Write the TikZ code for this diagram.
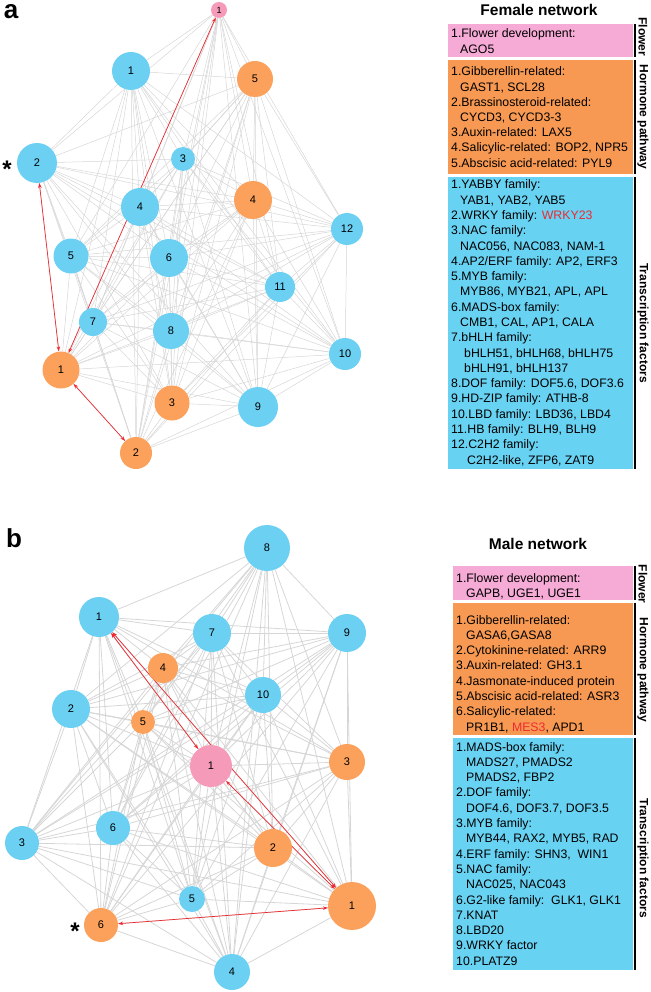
\documentclass[tikz,border=0pt]{standalone}
\usepackage{fontspec}
\setmainfont{Liberation Sans}
\usetikzlibrary{backgrounds,arrows.meta}
\definecolor{nodeblue}{RGB}{108,208,243}
\definecolor{nodeorange}{RGB}{251,161,91}
\definecolor{nodepink}{RGB}{245,155,185}
\definecolor{legpink}{RGB}{246,170,214}
\definecolor{legorange}{RGB}{247,153,82}
\definecolor{legblue}{RGB}{104,210,243}
\definecolor{edgegray}{RGB}{214,214,214}
\definecolor{linkred}{RGB}{238,42,48}

\tikzset{
  netnode/.style={circle,inner sep=0pt,font=\fontsize{11}{13}\selectfont},
  fedge/.style={draw=edgegray,line width=0.5pt},
  medge/.style={draw=edgegray,line width=0.8pt},
  redlink/.style={draw=linkred,line width=0.7pt,{Stealth[length=5pt,width=3.6pt]}-{Stealth[length=5pt,width=3.6pt]}},
  legline/.style={anchor=base west,inner sep=0pt,font=\fontsize{12.3}{14}\selectfont},
  legtitle/.style={font=\bfseries\fontsize{15.5}{18}\selectfont},
  sidelabel/.style={rotate=-90,inner sep=0pt,font=\bfseries\fontsize{12}{14}\selectfont},
  sidebar/.style={line width=2.5pt},
  panel/.style={inner sep=0pt,font=\bfseries\fontsize{26}{28}\selectfont},
  starmark/.style={inner sep=0pt,font=\bfseries\fontsize{24}{24}\selectfont}
}

\def\fnames{f-p1,f-b1,f-o5,f-b2,f-b3,f-b4,f-o4,f-b12,f-b5,f-b6,f-b11,f-b7,f-b8,f-b10,f-o1,f-o3,f-b9,f-o2}
\def\mnames{m-b8,m-b1,m-b7,m-b9,m-o4,m-b10,m-b2,m-o5,m-p1,m-o3,m-b6,m-b3,m-o2,m-b5,m-o1,m-o6,m-b4}

\begin{document}
\begin{tikzpicture}[x=1pt,y=-1pt]
\useasboundingbox (0,0) rectangle (650,992);

% a: female network
\node[panel] (lab-a) at (11,12) {a};
\node[netnode,fill=nodepink,minimum size=16,font=\fontsize{9}{10}\selectfont] (f-p1) at (219,10) {1};
\foreach \nm/\x/\y/\r/\c/\t in {
  f-b1/131/71/19/nodeblue/1, f-o5/255/79/18/nodeorange/5, f-b2/37/163/20/nodeblue/2,
  f-b3/183/159/12/nodeblue/3, f-b4/140/207/19/nodeblue/4, f-o4/253/200/19/nodeorange/4,
  f-b12/347/229/16/nodeblue/12, f-b5/71/256/17.5/nodeblue/5, f-b6/169/258/19/nodeblue/6,
  f-b11/280/287/15/nodeblue/11, f-b7/93/322/14/nodeblue/7, f-b8/171/331/18/nodeblue/8,
  f-b10/345/354/16/nodeblue/10, f-o1/61/370/18.5/nodeorange/1, f-o3/172/403/17.5/nodeorange/3,
  f-b9/258/407/20/nodeblue/9, f-o2/136/453/16/nodeorange/2}
  \node[netnode,fill=\c,minimum size=2*\r] (\nm) at (\x,\y) {\t};
\node[starmark] (ast-a) at (7,169) {*};

\begin{scope}[on background layer]
\foreach \a [count=\i] in \fnames
  \foreach \b [count=\j] in \fnames
    {\ifnum\j>\i \draw[fedge] (\a) -- (\b); \fi}
\draw[redlink] (f-o1) -- (f-p1);
\draw[redlink] (f-b2) -- (f-o1);
\draw[redlink] (f-o1) -- (f-o2);
\end{scope}

% female legend
\node[legtitle] (ftitle) at (539,10) {Female network};
\fill[legpink] (448,24) rectangle (633,57);
\fill[legorange] (448,60) rectangle (633,174);
\fill[legblue] (448,177) rectangle (633,469);
\draw[sidebar] (635,24) -- (635,57);
\draw[sidebar] (635,60) -- (635,174);
\draw[sidebar] (635,177) -- (635,469);
\node[sidelabel] (fside1) at (643,37) {Flower};
\node[sidelabel] (fside2) at (643,117) {Hormone pathway};
\node[sidelabel] (fside3) at (643,323) {Transcription factors};
\foreach \dx/\t [count=\i from 0] in {0/{1.Flower development:}, 9/{AGO5}}
  \node[legline] (fp-\i) at ({451+\dx},{38+15.2*\i}) {\t};
\foreach \dx/\t [count=\i from 0] in {0/{1.Gibberellin-related:}, 9/{GAST1, SCL28},
  0/{2.Brassinosteroid-related:}, 9/{CYCD3, CYCD3-3}, 0/{3.Auxin-related: LAX5},
  0/{4.Salicylic-related: BOP2, NPR5}, 0/{5.Abscisic acid-related: PYL9}}
  \node[legline] (fo-\i) at ({451+\dx},{76+15.2*\i}) {\t};
\foreach \dx/\t [count=\i from 0] in {0/{1.YABBY family:}, 9/{YAB1, YAB2, YAB5},
  0/{2.WRKY family: \textcolor{linkred}{WRKY23}}, 0/{3.NAC family:}, 9/{NAC056, NAC083, NAM-1},
  0/{4.AP2/ERF family: AP2, ERF3}, 0/{5.MYB family:}, 9/{MYB86, MYB21, APL, APL},
  0/{6.MADS-box family:}, 9/{CMB1, CAL, AP1, CALA}, 0/{7.bHLH family:},
  13/{bHLH51, bHLH68, bHLH75}, 13/{bHLH91, bHLH137}, 0/{8.DOF family: DOF5.6, DOF3.6},
  0/{9.HD-ZIP family: ATHB-8}, 0/{10.LBD family: LBD36, LBD4}, 0/{11.HB family: BLH9, BLH9},
  0/{12.C2H2 family:}, 16/{C2H2-like, ZFP6, ZAT9}}
  \node[legline] (fb-\i) at ({451+\dx},{189+15.28*\i}) {\t};

% b: male network
\node[panel] (lab-b) at (14,538) {b};
\foreach \nm/\x/\y/\r/\c/\t in {
  m-b8/267/548/23/nodeblue/8, m-b1/99/617/20/nodeblue/1, m-b7/212/633/19/nodeblue/7,
  m-b9/347/633/19/nodeblue/9, m-o4/163/668/15/nodeorange/4, m-b10/263/695/18/nodeblue/10,
  m-b2/71/709/19/nodeblue/2, m-o5/143/722/12/nodeorange/5, m-p1/211/766/21/nodepink/1,
  m-o3/347/762/18/nodeorange/3, m-b6/113/828/17/nodeblue/6, m-b3/22/843/17/nodeblue/3,
  m-o2/273/848/19/nodeorange/2, m-b5/192/899/13/nodeblue/5, m-o1/352/906/24/nodeorange/1,
  m-o6/101/925/17/nodeorange/6, m-b4/232/972/18/nodeblue/4}
  \node[netnode,fill=\c,minimum size=2*\r] (\nm) at (\x,\y) {\t};
\node[starmark] (ast-b) at (75,931) {*};

\begin{scope}[on background layer]
\foreach \a [count=\i] in \mnames
  \foreach \b [count=\j] in \mnames
    {\ifnum\j>\i \draw[medge] (\a) -- (\b); \fi}
\draw[redlink] (m-b1) -- (m-p1);
\draw[redlink] (m-b1) -- (m-o1);
\draw[redlink] (m-p1) -- (m-o1);
\draw[redlink] (m-o6) -- (m-o1);
\end{scope}

% male legend
\node[legtitle] (mtitle) at (538,544) {Male network};
\fill[legpink] (453,566) rectangle (633,600);
\fill[legorange] (453,603) rectangle (633,735);
\fill[legblue] (453,738) rectangle (633,970);
\draw[sidebar] (635,566) -- (635,600);
\draw[sidebar] (635,603) -- (635,735);
\draw[sidebar] (635,738) -- (635,970);
\node[sidelabel] (mside1) at (643,584) {Flower};
\node[sidelabel] (mside2) at (643,670) {Hormone pathway};
\node[sidelabel] (mside3) at (643,858) {Transcription factors};
\foreach \dx/\t [count=\i from 0] in {0/{1.Flower development:}, 10/{GAPB, UGE1, UGE1}}
  \node[legline] (mp-\i) at ({456+\dx},{582+15.2*\i}) {\t};
\foreach \dx/\t [count=\i from 0] in {0/{1.Gibberellin-related:}, 10/{GASA6,GASA8},
  0/{2.Cytokinine-related: ARR9}, 0/{3.Auxin-related: GH3.1}, 0/{4.Jasmonate-induced protein},
  0/{5.Abscisic acid-related: ASR3}, 0/{6.Salicylic-related:},
  10/{PR1B1, \textcolor{linkred}{MES3}, APD1}}
  \node[legline] (mo-\i) at ({456+\dx},{624+15.3*\i}) {\t};
\foreach \dx/\t [count=\i from 0] in {0/{1.MADS-box family:}, 10/{MADS27, PMADS2},
  10/{PMADS2, FBP2}, 0/{2.DOF family:}, 10/{DOF4.6, DOF3.7, DOF3.5}, 0/{3.MYB family:},
  10/{MYB44, RAX2, MYB5, RAD}, 0/{4.ERF family: SHN3,\ \ WIN1}, 0/{5.NAC family:},
  10/{NAC025, NAC043}, 0/{6.G2-like family:\ \ GLK1, GLK1}, 0/{7.KNAT}, 0/{8.LBD20},
  0/{9.WRKY factor}, 0/{10.PLATZ9}}
  \node[legline] (mb-\i) at ({456+\dx},{751+15.3*\i}) {\t};
\end{tikzpicture}
\end{document}
